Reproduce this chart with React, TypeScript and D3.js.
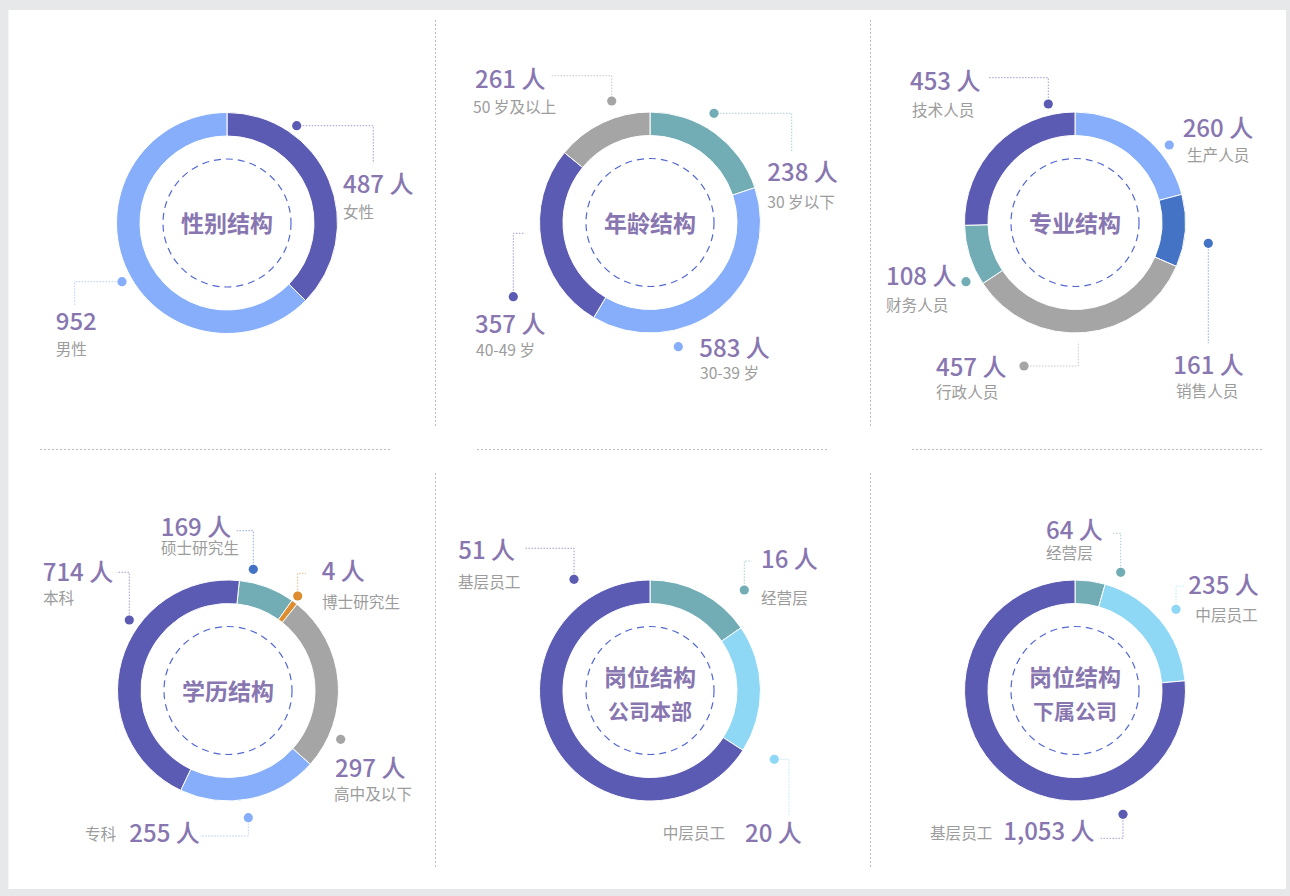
import React from 'react';
import * as d3 from 'd3';

// ---------------- data ----------------
const genderCategories = ['女性', '男性'];
const genderCounts = [487, 952];
const genderRingShares = [37.4, 62.6];

const ageCategories = ['30 岁以下', '30-39 岁', '40-49 岁', '50 岁及以上'];
const ageCounts = [238, 583, 357, 261];
const ageRingShares = [19.9, 38.6, 27.4, 14.1];

const majorCategories = ['生产人员', '销售人员', '行政人员', '财务人员', '技术人员'];
const majorCounts = [260, 161, 457, 108, 453];
const majorRingShares = [20.9, 10.6, 34.2, 8.9, 25.4];

const eduCategories = ['硕士研究生', '博士研究生', '高中及以下', '专科', '本科'];
const eduCounts = [169, 4, 297, 255, 714];
const eduRingShares = [8.2, 0.9, 25.9, 20.4, 44.6];

const hqCategories = ['经营层', '中层员工', '基层员工'];
const hqCounts = [16, 20, 51];
const hqRingShares = [15.4, 18.7, 65.9];

const subCategories = ['经营层', '中层员工', '基层员工'];
const subCounts = [64, 235, 1053];
const subRingShares = [4.4, 19.2, 76.4];

// ---------------- styles ----------------
const C = {
  dark: '#5b5bb3',
  light: '#86aefa',
  teal: '#72adb5',
  gray: '#a5a5a5',
  blue: '#4472c4',
  orange: '#dd8c2f',
  cyan: '#8fd8f5',
};
const PURPLE = '#8876b0';
const LABEL_GRAY = '#9c9c9c';
const FONT = "'Noto Sans CJK SC', 'Noto Sans', sans-serif";
const OUTER_R = 110.5;
const INNER_R = 87;

type P = [number, number];
interface Ann {
  dot: P;
  leader?: P[];
  value: P;
  label: P;
  unit?: boolean;
  dotColor?: string;
}
interface ChartCfg {
  cx: number;
  cy: number;
  title: string[];
  categories: string[];
  counts: number[];
  shares: number[];
  colors: string[];
  startDeg: number;
  ann: Ann[];
}

const charts: ChartCfg[] = [
  {
    cx: 227, cy: 223, title: ['性别结构'],
    categories: genderCategories, counts: genderCounts, shares: genderRingShares,
    colors: [C.dark, C.light], startDeg: 0,
    ann: [
      { dot: [69.7, -97.3], leader: [[69.7, -97.3], [146.3, -97.3], [146.3, -59.7]], value: [116, -30], label: [116, -5] },
      { dot: [-105, 58.7], leader: [[-105, 58.7], [-152.3, 58.7], [-152.3, 82]], value: [-171.3, 107], label: [-171.3, 132], unit: false },
    ],
  },
  {
    cx: 650, cy: 222.5, title: ['年龄结构'],
    categories: ageCategories, counts: ageCounts, shares: ageRingShares,
    colors: [C.teal, C.light, C.dark, C.gray], startDeg: 0,
    ann: [
      { dot: [64, -109.2], leader: [[64, -109.2], [141.7, -109.2], [141.7, -70.8]], value: [117.3, -41.5], label: [117.3, -14.5] },
      { dot: [28.3, 124.2], value: [49.3, 134.2], label: [50, 156.5] },
      { dot: [-136.7, 74.2], leader: [[-136.7, 74.2], [-136.7, 10.8], [-125, 10.8]], value: [-175, 110.8], label: [-174, 133.5] },
      { dot: [-38.3, -121.5], leader: [[-38.3, -121.5], [-38.3, -146.8], [-98.3, -146.8]], value: [-175, -134.2], label: [-177, -109.5] },
    ],
  },
  {
    cx: 1075, cy: 222.5, title: ['专业结构'],
    categories: majorCategories, counts: majorCounts, shares: majorRingShares,
    colors: [C.light, C.blue, C.gray, C.teal, C.dark], startDeg: 0,
    ann: [
      { dot: [94.3, -77.5], value: [107.7, -85.8], label: [112, -61.5] },
      { dot: [133.3, 20.8], leader: [[133.3, 20.8], [133.3, 120.8]], value: [98.3, 151.5], label: [101, 174.5] },
      { dot: [-51, 143.5], leader: [[-51, 143.5], [3.3, 143.5], [3.3, 119.2]], value: [-139, 153.2], label: [-139, 175.5] },
      { dot: [-109, 59.2], value: [-189, 62.5], label: [-189, 88.5] },
      { dot: [-26.7, -118.5], leader: [[-26.7, -118.5], [-26.7, -144.8], [-86.7, -144.8]], value: [-165, -132.5], label: [-163, -106.5] },
    ],
  },
  {
    cx: 228, cy: 690.5, title: ['学历结构'],
    categories: eduCategories, counts: eduCounts, shares: eduRingShares,
    colors: [C.teal, C.orange, C.gray, C.light, C.dark], startDeg: 5.9,
    ann: [
      { dot: [25.3, -121.2], leader: [[25.3, -121.2], [25.3, -159.8], [8.7, -159.8]], value: [-67.3, -154.3], label: [-67, -136.5], dotColor: C.blue },
      { dot: [69.7, -94.5], leader: [[69.7, -94.5], [69.7, -117.2], [78, -117.2]], value: [93.7, -110.5], label: [94, -82.5] },
      { dot: [112.7, 48.8], value: [107, 86.2], label: [106, 109.5] },
      { dot: [20.3, 127.2], leader: [[20.3, 127.2], [20.3, 145.5], [-28, 145.5]], value: [-98.7, 151.8], label: [-143, 149.5] },
      { dot: [-98.7, -70.5], leader: [[-98.7, -70.5], [-98.7, -118.2], [-111.3, -118.2]], value: [-185.3, -109.5], label: [-185, -86.5] },
    ],
  },
  {
    cx: 650, cy: 690.5, title: ['岗位结构', '公司本部'],
    categories: hqCategories, counts: hqCounts, shares: hqRingShares,
    colors: [C.teal, C.cyan, C.dark], startDeg: 0,
    ann: [
      { dot: [94.3, -100.5], leader: [[94.3, -100.5], [94.3, -129.5], [101.7, -129.5]], value: [111, -122.2], label: [111, -86.5] },
      { dot: [124.3, 68.8], leader: [[124.3, 68.8], [139, 68.8], [139, 126.2]], value: [95, 151.2], label: [12.7, 148.5] },
      { dot: [-76, -111.2], leader: [[-76, -111.2], [-76, -142.2], [-125, -142.2]], value: [-191.7, -131.2], label: [-192, -102.5] },
    ],
  },
  {
    cx: 1075, cy: 690.5, title: ['岗位结构', '下属公司'],
    categories: subCategories, counts: subCounts, shares: subRingShares,
    colors: [C.teal, C.cyan, C.dark], startDeg: 0,
    ann: [
      { dot: [45.7, -118.2], leader: [[45.7, -118.2], [45.7, -157.2], [36.7, -157.2]], value: [-29, -151.7], label: [-29, -131.5] },
      { dot: [101, -81.2], leader: [[101, -81.2], [101, -104.5], [109, -104.5]], value: [113.3, -96.5], label: [120.3, -69.5] },
      { dot: [48, 123.8], leader: [[48, 123.8], [48, 147.8], [25.7, 147.8]], value: [-71.7, 149.5], label: [-145, 148] },
    ],
  },
];

const fmt = d3.format(',');
const arcGen = d3.arc<d3.PieArcDatum<number>>().innerRadius(INNER_R).outerRadius(OUTER_R);
const line = d3.line<P>();

function Donut({ cfg }: { cfg: ChartCfg }) {
  const start = (cfg.startDeg * Math.PI) / 180;
  const pie = d3.pie<number>().sort(null).value((d) => d).startAngle(start).endAngle(start + 2 * Math.PI);
  const arcs = pie(cfg.shares);
  return (
    <g transform={`translate(${cfg.cx},${cfg.cy})`}>
      {arcs.map((a, i) => (
        <path key={i} d={arcGen(a) || ''} fill={cfg.colors[i]} stroke="#fff" strokeWidth={1} />
      ))}
      <circle r={64} fill="none" stroke="#5468d4" strokeWidth={1.2} strokeDasharray="7,5" />
      {cfg.title.length === 1 ? (
        <text x={0} y={9} textAnchor="middle" fontFamily={FONT} fontWeight={700} fontSize={23} fill={PURPLE}>
          {cfg.title[0]}
        </text>
      ) : (
        <>
          <text x={0} y={-4.5} textAnchor="middle" fontFamily={FONT} fontWeight={700} fontSize={23} fill={PURPLE}>
            {cfg.title[0]}
          </text>
          <text x={0} y={28} textAnchor="middle" fontFamily={FONT} fontWeight={700} fontSize={21} fill={PURPLE}>
            {cfg.title[1]}
          </text>
        </>
      )}
      {cfg.ann.map((an, i) => {
        const col = an.dotColor || cfg.colors[i];
        const unit = an.unit !== false;
        return (
          <g key={'a' + i}>
            {an.leader && (
              <path d={line(an.leader) || ''} fill="none" stroke={col} strokeOpacity={0.6} strokeWidth={1} strokeDasharray="1.5,1.5" />
            )}
            <circle cx={an.dot[0]} cy={an.dot[1]} r={4.6} fill={col} />
            <text x={an.value[0]} y={an.value[1]} fontFamily={FONT} fontWeight={500} fontSize={24} fill={PURPLE}>
              {fmt(cfg.counts[i]) + (unit ? ' 人' : '')}
            </text>
            <text x={an.label[0]} y={an.label[1]} fontFamily={FONT} fontSize={15.6} fill={LABEL_GRAY}>
              {cfg.categories[i]}
            </text>
          </g>
        );
      })}
    </g>
  );
}

export default function App() {
  const divider = { stroke: '#bdbdbd', strokeWidth: 1, strokeDasharray: '2,2', fill: 'none' };
  return (
    <div style={{ position: 'absolute', left: 0, top: 0 }}>
      <svg width={1290} height={896} style={{ display: 'block' }}>
        <rect x={0} y={0} width={1290} height={896} fill="#e7e8ea" />
        <rect x={8.5} y={10} width={1277.5} height={879} fill="#ffffff" />
        {/* dividers */}
        <line x1={435.5} y1={20} x2={435.5} y2={426} {...divider} />
        <line x1={870.5} y1={20} x2={870.5} y2={426} {...divider} />
        <line x1={435.5} y1={473} x2={435.5} y2={867} {...divider} />
        <line x1={870.5} y1={473} x2={870.5} y2={867} {...divider} />
        <line x1={40} y1={449.5} x2={390} y2={449.5} {...divider} />
        <line x1={477} y1={449.5} x2={827} y2={449.5} {...divider} />
        <line x1={912} y1={449.5} x2={1262} y2={449.5} {...divider} />
        {charts.map((c, i) => (
          <Donut key={i} cfg={c} />
        ))}
      </svg>
    </div>
  );
}
